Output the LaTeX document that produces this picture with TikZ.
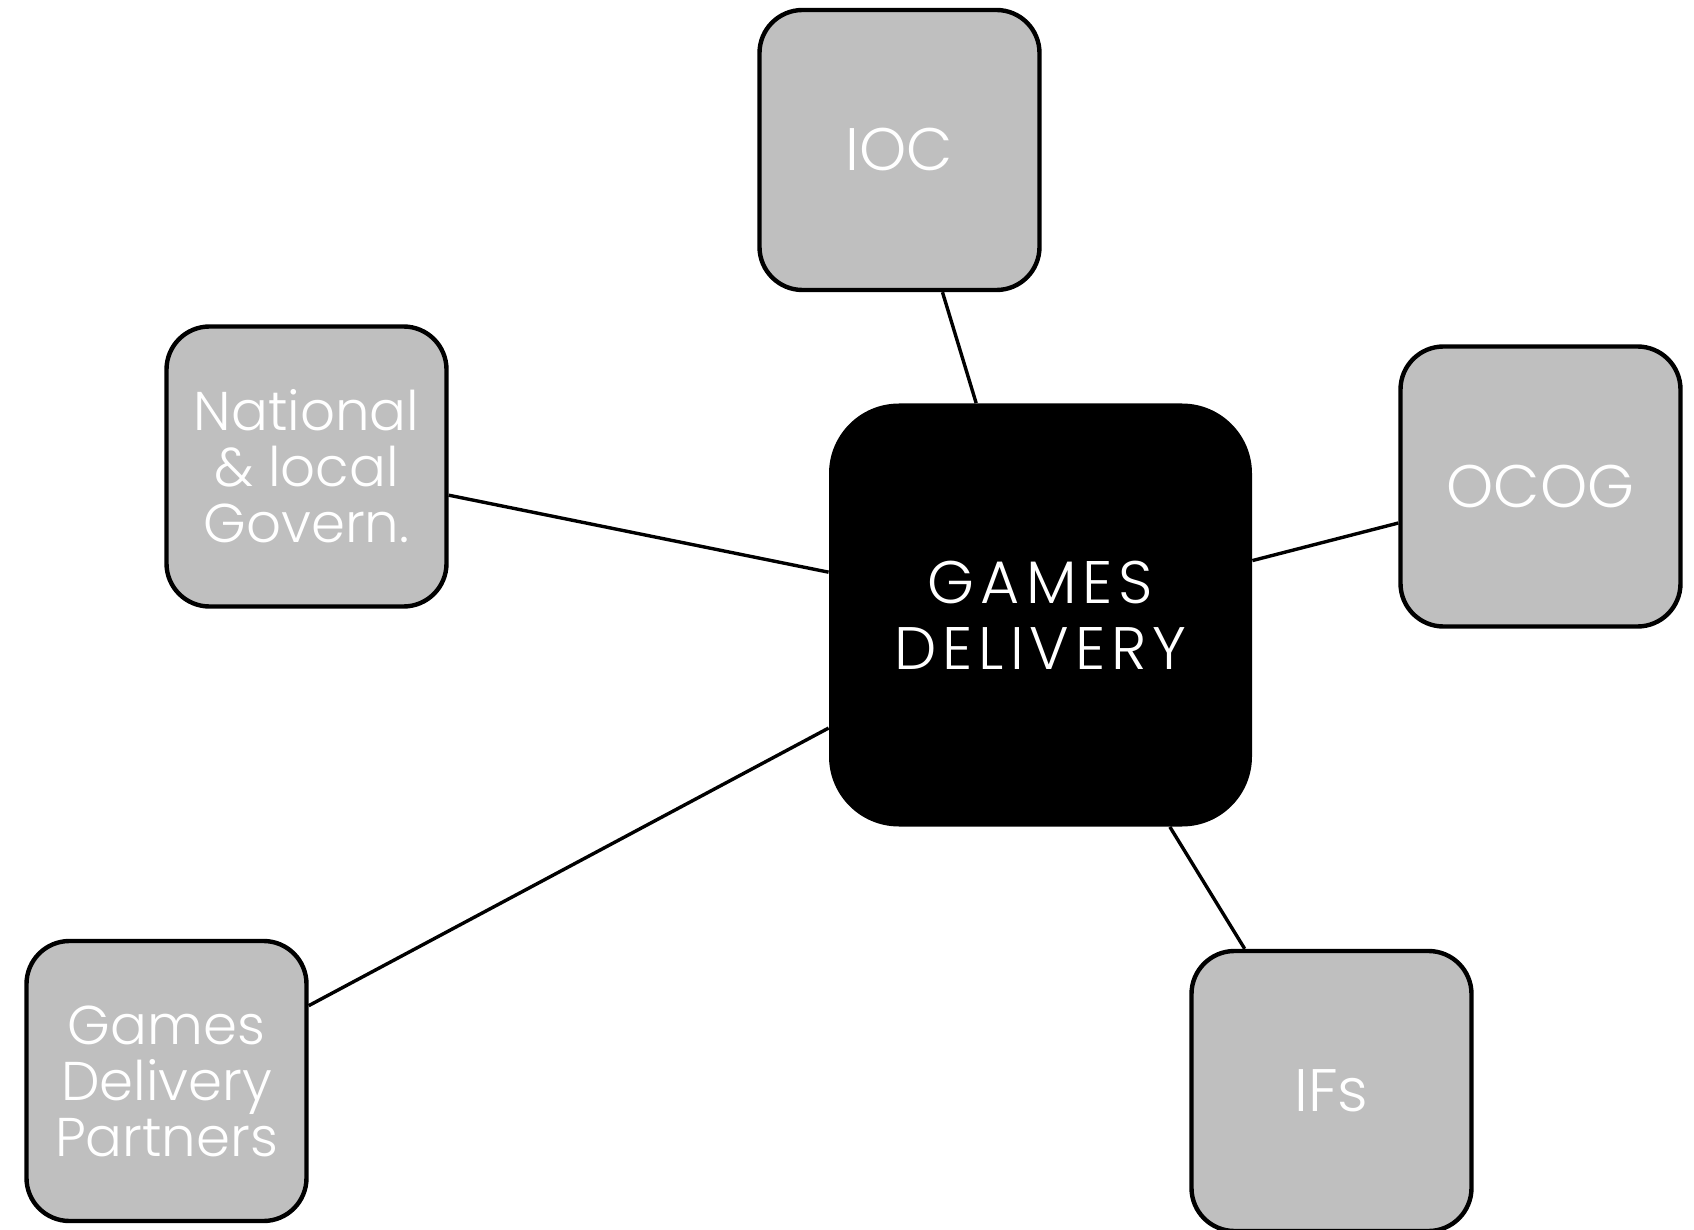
\documentclass[tikz,border=0pt]{standalone}
\usepackage{fontspec}
\IfFontExistsTF{Poppins Light}{\setmainfont{Poppins Light}}{\setmainfont{Poppins}}
\usepackage{tikz}
\definecolor{boxgray}{HTML}{BFBFBF}
\tikzset{
	partner/.style={rectangle, draw=black, line width=2.2pt, fill=boxgray, rounded corners=21.5pt,
		minimum width=140pt, minimum height=140pt, inner sep=0pt, align=center, text=white,
		font=\fontsize{27.3}{28}\selectfont},
	hub/.style={rectangle, fill=black, rounded corners=35pt, minimum width=211.5pt,
		minimum height=211.5pt, inner sep=0pt, align=center, text=white,
		font=\fontsize{30}{33}\selectfont\addfontfeature{LetterSpace=10}},
	link/.style={line width=1.7pt, draw=black}
}

\begin{document}
\begin{tikzpicture}[x=0.5pt, y=-0.5pt]
		%%%%% START %%%%%
		\useasboundingbox (0, 0) rectangle (1694, 1230);
		
		\node[hub] (games) at (1040.5, 615) {GAMES\\DELIVERY};
		
		\node[partner, font=\fontsize{30}{30}\selectfont] (ioc) at (899.5, 150) {IOC};
		\node[partner] (govern) at (306.5, 466.5) {National\\\& local\\Govern.};
		\node[partner, font=\fontsize{30}{30}\selectfont] (ocog) at (1540.5, 486.5) {OCOG};
		\node[partner] (gdp) at (166.5, 1081) {Games\\Delivery\\Partners};
		\node[partner, font=\fontsize{30}{30}\selectfont] (ifs) at (1331.5, 1091) {IFs};
		
		\draw[link] (games) -- (ioc);
		\draw[link] (games) -- (govern);
		\draw[link] (games) -- (ocog);
		\draw[link] (games) -- (gdp);
		\draw[link] (games) -- (ifs);
		
		%%%%% END %%%%%
	\end{tikzpicture}
\end{document}
